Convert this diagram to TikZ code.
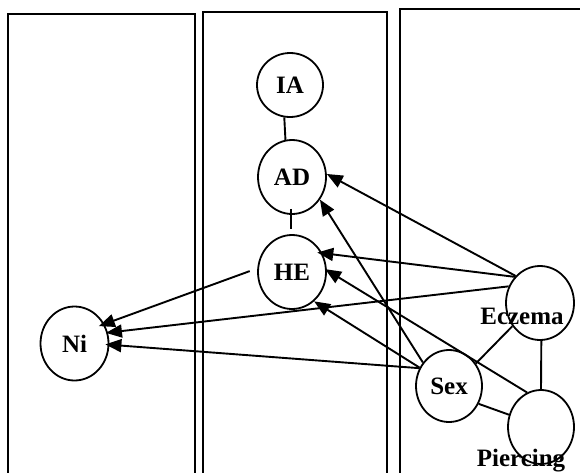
\documentclass[tikz,border=0pt]{standalone}
\usepackage{fontspec}
\setmainfont{Liberation Serif}
\usetikzlibrary{arrows.meta,shapes.geometric}
\begin{document}
\begin{tikzpicture}[x=1pt,y=-1pt,
  panel/.style={draw=black,line width=2.2pt},
  var/.style={ellipse,draw=black,line width=1.8pt,inner sep=0pt,
    font=\fontsize{25}{25}\selectfont\bfseries},
  lbl/.style={inner sep=0pt,font=\fontsize{25}{25}\selectfont\bfseries},
  edge/.style={draw=black,line width=1.9pt},
  arr/.style={edge,-{Triangle[length=16pt,width=13pt]}}]
\useasboundingbox (0,0) rectangle (580,472);
% panels
\draw[panel] (8,485) -- (8,14) -- (195,14) -- (195,485);
\draw[panel] (203,485) -- (203,12) -- (387,12) -- (387,485);
\draw[panel] (400,485) -- (400,9) -- (590,9);
% nodes
\node[var,minimum width=66pt,minimum height=64pt] (IA) at (290,85) {IA};
\node[var,minimum width=68pt,minimum height=74pt] (AD) at (292,177) {AD};
\node[var,minimum width=68pt,minimum height=74pt] (HE) at (292,272) {HE};
\node[var,minimum width=68pt,minimum height=74pt] (Ni) at (74.5,343.5) {Ni};
\node[var,minimum width=68pt,minimum height=74pt] (Eczema) at (540,303) {};
\node[var,minimum width=66pt,minimum height=72pt] (Sex) at (449,386) {Sex};
\node[var,minimum width=66pt,minimum height=74pt] (Piercing) at (541,427) {};
\node[lbl] (EczemaT) at (522,316) {Eczema};
\node[lbl] (PiercingT) at (521,461) {Piercing};
% undirected links
\draw[edge] (IA.-100) -- (AD.100);
\draw[edge,shorten <=-6pt,shorten >=5pt] (AD.-92) -- (HE.92);
\draw[edge] (Eczema.-140) -- (Sex.40);
\draw[edge] (Eczema.-88) -- (Piercing.90);
\draw[edge] (Sex.-31) -- (Piercing.159);
% arrows
\draw[arr] (Eczema.132) -- (AD.5);
\draw[arr] (Sex.138) -- (AD.-39);
\draw[arr,shorten >=-5pt] (Eczema.134) -- (HE.32);
\draw[arr,shorten >=-2pt] (Piercing.112) -- (HE.3);
\draw[arr] (Sex.148) -- (HE.-53);
\draw[arr,shorten <=8pt,shorten >=-6pt] (HE.174) -- (Ni.33);
\draw[arr,shorten >=-2pt] (Eczema.152) -- (Ni.18);
\draw[arr,shorten >=-4pt] (Sex.149) -- (Ni.-2);
\end{tikzpicture}
\end{document}
